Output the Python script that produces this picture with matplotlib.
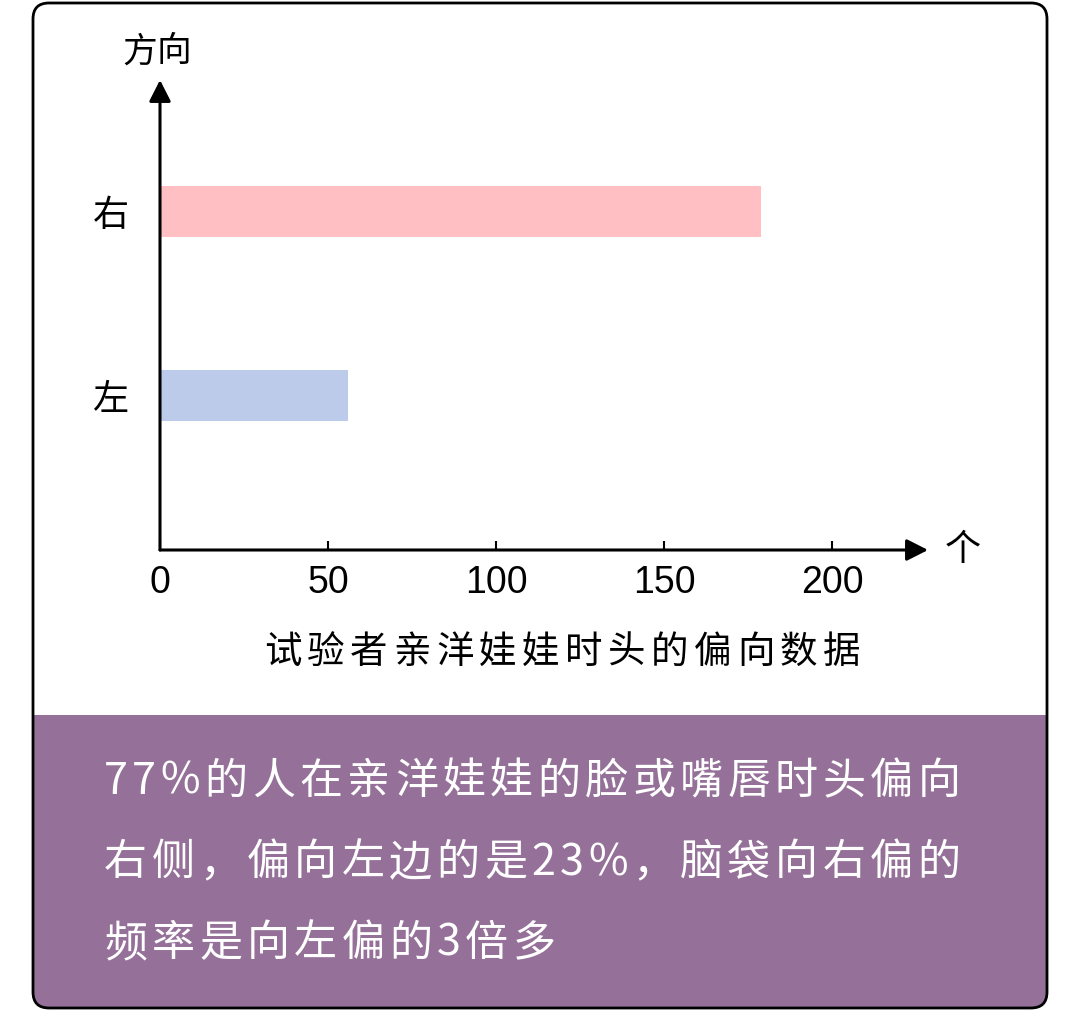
import matplotlib

matplotlib.use("Agg")
import matplotlib.pyplot as plt
from matplotlib.patches import FancyBboxPatch, Rectangle

plt.rcParams["font.family"] = ["Noto Sans CJK SC", "DejaVu Sans"]

# 数据
directions = ["左", "右"]
counts = [56, 179]
bar_colors = ["#bccbea", "#ffbfc3"]
x_ticks = [0, 50, 100, 150, 200]
x_unit = "个"
y_unit = "方向"
chart_title = "试验者亲洋娃娃时头的偏向数据"
note_lines = [
    "77%的人在亲洋娃娃的脸或嘴唇时头偏向",
    "右侧，偏向左边的是23%，脑袋向右偏的",
    "频率是向左偏的3倍多",
]

W, H = 1080, 1010
PURPLE = "#957199"

fig = plt.figure(figsize=(W / 100, H / 100), dpi=100)
renderer = fig.canvas.get_renderer()

# 背景层（像素坐标）
bg = fig.add_axes([0, 0, 1, 1], zorder=0)
bg.set_xlim(0, W)
bg.set_ylim(H, 0)
bg.axis("off")

frame = FancyBboxPatch((33, 3), 1014, 1005, boxstyle="round,pad=0,rounding_size=16",
                       facecolor="white", edgecolor="none")
bg.add_patch(frame)
panel = Rectangle((0, 715), W, 300, facecolor=PURPLE, edgecolor="none")
bg.add_patch(panel)
panel.set_clip_path(frame)
bg.add_patch(FancyBboxPatch((33, 3), 1014, 1005, boxstyle="round,pad=0,rounding_size=16",
                            facecolor="none", edgecolor="black", lw=2.0, zorder=5))


def spaced_text(ax, s, x0, y, track, **kw):
    # 逐字排版，加字距
    x = x0
    for ch in s:
        t = ax.text(x, y, ch, ha="left", va="center", **kw)
        w = t.get_window_extent(renderer).width
        x += w + track


spaced_text(bg, y_unit, 122, 52, 0, fontsize=25, color="black")
spaced_text(bg, chart_title, 264, 652, 5.5, fontsize=27, color="black")
for i, line in enumerate(note_lines):
    spaced_text(bg, line, 104, 782 + i * 81, 4.5, fontsize=31, color="white")

# 图表
left, right, bottom, top = 160, 928, 550, 80
ax = fig.add_axes([left / W, 1 - bottom / H, (right - left) / W, (bottom - top) / H], zorder=1)
ax.set_facecolor("none")
xmax = 200 * (right - left) / 672
ax.set_xlim(0, xmax)
ax.set_ylim(-0.837, 1.717)

ax.barh(range(len(directions)), counts, height=0.277, color=bar_colors, zorder=1)

for s in ax.spines.values():
    s.set_visible(False)
arrow = dict(arrowstyle="-|>,head_length=0.65,head_width=0.33", mutation_scale=20,
             lw=2.2, color="black", shrinkA=0, shrinkB=0)
ax.annotate("", xy=(1, 0), xytext=(0, 0), xycoords="axes fraction", arrowprops=arrow)
ax.annotate("", xy=(0, 1), xytext=(0, 0), xycoords="axes fraction", arrowprops=arrow)

ax.set_xticks(x_ticks)
ax.set_xticklabels([str(t) for t in x_ticks], family="Liberation Sans", fontsize=27)
ax.tick_params(axis="x", direction="in", length=6.5, width=1.5, pad=11, color="black")
ax.set_yticks(range(len(directions)))
ax.set_yticklabels(directions, fontsize=26)
ax.tick_params(axis="y", length=0, pad=22)

ax.text(1.022, 0, x_unit, transform=ax.transAxes, ha="left", va="center", fontsize=26)

fig.savefig("out.png", dpi=100, facecolor="white")
